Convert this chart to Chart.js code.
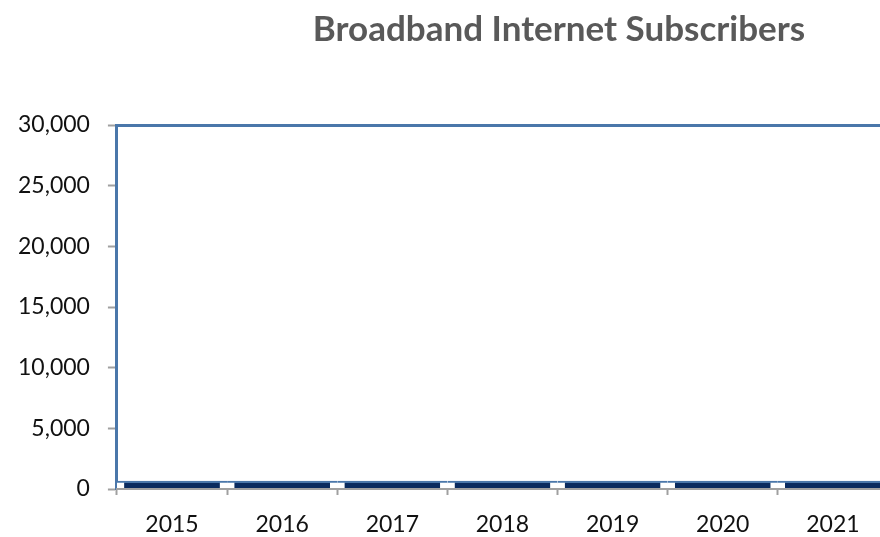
<!DOCTYPE html>
<html>
<head>
<meta charset="utf-8">
<script src="https://cdn.jsdelivr.net/npm/chart.js@4/dist/chart.umd.min.js"></script>
<style>
  html, body { margin: 0; padding: 0; overflow: hidden; background: #fff; }
  #wrap { width: 1118px; height: 537px; }
</style>
</head>
<body>
<div id="wrap"><canvas id="chart" width="1118" height="537"></canvas></div>
<script>
// chart data
const years = ['2015', '2016', '2017', '2018', '2019', '2020', '2021'];
const subscribers = [660, 660, 660, 660, 660, 660, 660];
const yTicks = [0, 5000, 10000, 15000, 20000, 25000, 30000];

const NAVY = '#0a2b5f';
const STEEL = '#4a77aa';
const AXIS_GRAY = '#a0a0a0';

const ctx = document.getElementById('chart');

new Chart(ctx, {
    type: 'bar',
    data: {
        labels: years,
        datasets: [
            {
                // navy bars, drawn on top
                label: 'Subscribers',
                data: subscribers,
                backgroundColor: NAVY,
                borderColor: STEEL,
                borderWidth: { top: 2, left: 0, right: 0, bottom: 0 },
                borderSkipped: false,
                categoryPercentage: 0.87,
                barPercentage: 1,
                grouped: false,
                order: 1
            },
            {
                // full width band behind the bars (white gaps with blue top edge)
                label: 'Band',
                data: subscribers,
                backgroundColor: '#ffffff',
                borderColor: STEEL,
                borderWidth: { top: 2, left: 0, right: 0, bottom: 0 },
                borderSkipped: false,
                categoryPercentage: 1,
                barPercentage: 1,
                grouped: false,
                order: 2
            }
        ]
    },
    options: {
        responsive: false,
        animation: false,
        layout: {
            padding: { left: 0, right: 0, top: 0, bottom: 0 }
        },
        scales: {
            x: {
                offset: true,
                grid: {
                    offset: true,
                    drawOnChartArea: false,
                    tickColor: AXIS_GRAY,
                    tickWidth: 2,
                    tickLength: 6
                },
                border: { color: AXIS_GRAY, width: 2, z: 1 },
                ticks: {
                    color: '#111',
                    padding: 16,
                    font: { family: 'Lato', size: 23 }
                },
                afterFit: axis => { axis.height = 48; }
            },
            y: {
                min: 0,
                max: 30000,
                afterBuildTicks: axis => {
                    axis.ticks = yTicks.map(v => ({ value: v }));
                },
                grid: {
                    color: c => c.tick && c.tick.value === 30000 ? STEEL : 'transparent',
                    lineWidth: c => c.tick && c.tick.value === 30000 ? 3 : 1,
                    tickColor: AXIS_GRAY,
                    tickWidth: 2,
                    tickLength: 9
                },
                border: { color: STEEL, width: 3 },
                ticks: {
                    color: '#111',
                    padding: 18,
                    font: { family: 'Lato', size: 23 },
                    callback: v => v.toLocaleString('en-US')
                }
            },
            // empty right-hand space (legend area of the original, off screen)
            yRight: {
                position: 'right',
                min: 0,
                max: 30000,
                grid: { display: false },
                border: { display: false },
                ticks: { display: false },
                afterFit: axis => { axis.width = 230; }
            }
        },
        plugins: {
            legend: { display: false },
            tooltip: { enabled: false },
            title: {
                display: true,
                text: 'Broadband Internet Subscribers',
                color: '#595959',
                font: { family: 'Lato', size: 35, weight: 'bold' },
                padding: { top: 9, bottom: 74 }
            }
        }
    }
});
</script>
</body>
</html>
